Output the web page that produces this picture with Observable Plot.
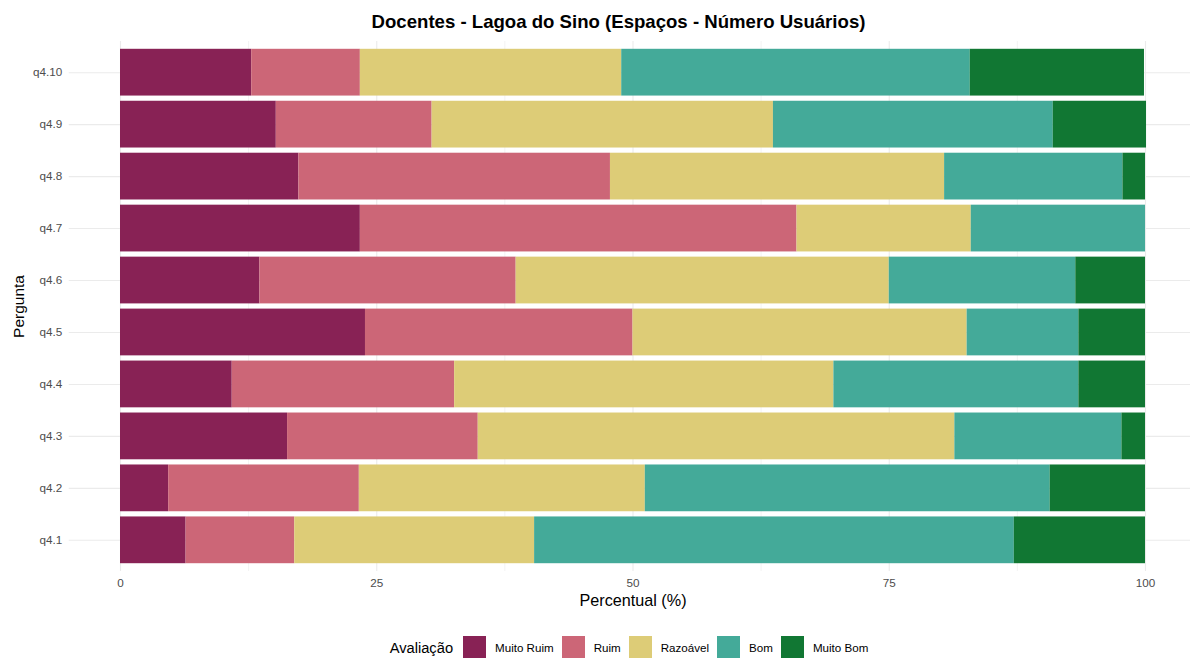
<!DOCTYPE html>
<html>
<head>
<meta charset="utf-8">
<script src="https://cdn.jsdelivr.net/npm/d3@7"></script>
<script src="https://cdn.jsdelivr.net/npm/@observablehq/plot@0.6"></script>
<style>
  html, body { margin: 0; padding: 0; background: #fff; overflow: hidden; }
  body { width: 1190px; height: 658px; font-family: "Liberation Sans", Arial, sans-serif; position: relative; }
  #title { position: absolute; left: 55px; width: 1127px; top: 11px; text-align: center; font-weight: bold; font-size: 18.6px; color: #000; line-height: 22px; }
  #chart { position: absolute; left: 0; top: 40px; }
  #legend { position: absolute; top: 636px; left: 0; width: 1190px; display: flex; align-items: center; justify-content: center; padding-left: 76px; box-sizing: border-box; }
  #legend .ttl { font-size: 14.7px; color: #000; margin-right: 10px; }
  #legend .sw { width: 23px; height: 23px; margin-right: 9px; }
  #legend .lb { font-size: 11.6px; color: #000; margin-right: 8px; }
</style>
</head>
<body>
<div id="title">Docentes - Lagoa do Sino (Espaços - Número Usuários)</div>
<div id="chart"></div>
<div id="legend"></div>
<script>
const questions = ["q4.1","q4.2","q4.3","q4.4","q4.5","q4.6","q4.7","q4.8","q4.9","q4.10"];
const levels = ["Muito Ruim","Ruim","Razoável","Bom","Muito Bom"];
const colors = ["#882255","#CC6677","#DDCC77","#44AA99","#117733"];
const muitoRuim = [6.4, 4.7, 16.3, 10.9, 23.9, 13.6, 23.4, 17.4, 15.2, 12.8];
const ruim      = [10.6, 18.6, 18.6, 21.7, 26.1, 25.0, 42.6, 30.4, 15.2, 10.6];
const razoavel  = [23.4, 27.9, 46.5, 37.0, 32.6, 36.4, 17.0, 32.6, 33.3, 25.5];
const bom       = [46.8, 39.5, 16.3, 23.9, 10.9, 18.2, 17.0, 17.4, 27.3, 34.0];
const muitoBom  = [12.8, 9.3, 2.3, 6.5, 6.5, 6.8, 0.0, 2.2, 9.1, 17.0];
const xTicks = [0, 25, 50, 75, 100];
const xMinor = [12.5, 37.5, 62.5, 87.5];

const series = [muitoRuim, ruim, razoavel, bom, muitoBom];
const data = [];
questions.forEach((q, i) => {
  levels.forEach((lv, j) => data.push({q, level: lv, value: series[j][i]}));
});

const chart = Plot.plot({
  width: 1190,
  height: 576,
  marginTop: 1,
  marginBottom: 45,
  marginLeft: 68.75,
  marginRight: 0,
  style: {fontFamily: "'Liberation Sans', Arial, sans-serif", background: "#fff"},
  x: {domain: [-5, 104.39], label: null},
  y: {domain: questions.slice().reverse(), paddingInner: 0.1, paddingOuter: 0.15, round: false, label: null},
  color: {domain: levels, range: colors},
  marks: [
    Plot.gridX(xMinor, {stroke: "#ebebeb", strokeOpacity: 1, strokeWidth: 0.6}),
    Plot.gridX(xTicks, {stroke: "#ebebeb", strokeOpacity: 1, strokeWidth: 1.1}),
    Plot.gridY({stroke: "#ebebeb", strokeOpacity: 1, strokeWidth: 1.1}),
    Plot.barX(data, Plot.stackX({x: "value", y: "q", fill: "level", order: levels})),
    Plot.axisX(xTicks, {tickSize: 0, tickPadding: 7, fontSize: 11.7, color: "#4d4d4d", label: null}),
    Plot.axisY({tickSize: 0, tickPadding: 7, fontSize: 11.7, color: "#4d4d4d", label: null}),
    Plot.text([0], {x: () => 50, frameAnchor: "bottom", dy: 34, text: () => "Percentual (%)", fontSize: 16.2, fill: "#000"}),
    Plot.text([0], {frameAnchor: "left", dx: -50, dy: 0, textAnchor: "middle", rotate: -90, text: () => "Pergunta", fontSize: 15.5, fill: "#000"})
  ]
});
document.getElementById("chart").appendChild(chart);

const legend = document.getElementById("legend");
const t = document.createElement("span"); t.className = "ttl"; t.textContent = "Avaliação"; legend.appendChild(t);
levels.forEach((lv, i) => {
  const s = document.createElement("span"); s.className = "sw"; s.style.background = colors[i]; legend.appendChild(s);
  const l = document.createElement("span"); l.className = "lb"; l.textContent = lv; legend.appendChild(l);
});
</script>
</body>
</html>
